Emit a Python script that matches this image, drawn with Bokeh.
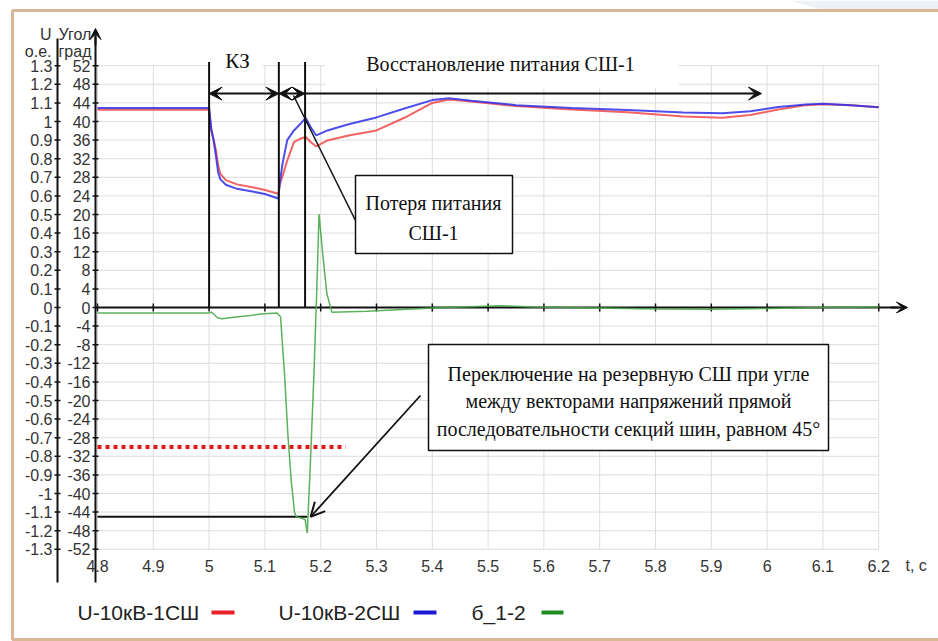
from bokeh.plotting import figure
from bokeh.models import Range1d, Arrow, VeeHead, OpenHead
from bokeh.core.properties import value
from bokeh.embed import file_html
from bokeh.resources import INLINE

# ---------------- data ----------------
t_ticks = [4.8, 4.9, 5.0, 5.1, 5.2, 5.3, 5.4, 5.5, 5.6, 5.7, 5.8, 5.9, 6.0, 6.1, 6.2]
t_labels = ["4.8", "4.9", "5", "5.1", "5.2", "5.3", "5.4", "5.5", "5.6", "5.7",
            "5.8", "5.9", "6", "6.1", "6.2"]

u_ticks = [1.3, 1.2, 1.1, 1.0, 0.9, 0.8, 0.7, 0.6, 0.5, 0.4, 0.3, 0.2, 0.1, 0.0,
           -0.1, -0.2, -0.3, -0.4, -0.5, -0.6, -0.7, -0.8, -0.9, -1.0, -1.1, -1.2, -1.3]
u_labels = ["1.3", "1.2", "1.1", "1", "0.9", "0.8", "0.7", "0.6", "0.5", "0.4", "0.3",
            "0.2", "0.1", "0", "-0.1", "-0.2", "-0.3", "-0.4", "-0.5", "-0.6", "-0.7",
            "-0.8", "-0.9", "-1", "-1.1", "-1.2", "-1.3"]
deg_ticks = [52, 48, 44, 40, 36, 32, 28, 24, 20, 16, 12, 8, 4, 0,
             -4, -8, -12, -16, -20, -24, -28, -32, -36, -40, -44, -48, -52]
deg_labels = [str(d) for d in deg_ticks]

# bus-section voltages, p.u.
t_u = [4.80, 5.000, 5.004, 5.008, 5.012, 5.016, 5.020, 5.030, 5.050, 5.080, 5.100,
       5.124, 5.127, 5.132, 5.140, 5.152, 5.163, 5.173, 5.182, 5.192, 5.212, 5.250,
       5.300, 5.350, 5.400, 5.430, 5.470, 5.550, 5.650, 5.750, 5.850, 5.920, 5.970,
       6.020, 6.070, 6.100, 6.150, 6.200]
u_1sh = [1.063, 1.063, 0.950, 0.905, 0.850, 0.770, 0.720, 0.685, 0.662, 0.645, 0.632,
         0.612, 0.665, 0.710, 0.790, 0.889, 0.907, 0.917, 0.890, 0.866, 0.898, 0.925,
         0.952, 1.020, 1.100, 1.118, 1.108, 1.083, 1.065, 1.050, 1.027, 1.020, 1.035,
         1.065, 1.088, 1.093, 1.087, 1.077]
u_2sh = [1.072, 1.072, 0.960, 0.900, 0.820, 0.730, 0.690, 0.660, 0.638, 0.622, 0.610,
         0.586, 0.680, 0.780, 0.900, 0.952, 0.985, 1.020, 0.970, 0.925, 0.952, 0.985,
         1.022, 1.070, 1.115, 1.125, 1.112, 1.088, 1.072, 1.062, 1.048, 1.045, 1.055,
         1.078, 1.092, 1.095, 1.088, 1.077]

# angle between positive-sequence voltage vectors, degrees
t_ang = [4.80, 5.000, 5.004, 5.008, 5.015, 5.023, 5.044, 5.070, 5.092, 5.122, 5.128,
         5.135, 5.141, 5.147, 5.153, 5.156, 5.165, 5.172, 5.176, 5.182, 5.188, 5.193,
         5.197, 5.204, 5.211, 5.220, 5.283, 5.400, 5.520, 5.580, 5.700, 5.800, 5.900,
         6.000, 6.100, 6.200]
ang_12 = [-1.2, -1.2, -1.0, -1.4, -2.2, -2.4, -2.1, -1.8, -1.4, -1.2, -2.0,
          -14.0, -27.0, -37.0, -44.0, -45.0, -45.3, -45.6, -48.5, -32.0, -14.0, 4.0,
          20.1, 11.0, 3.0, -1.0, -0.8, -0.1, 0.4, 0.1, -0.1, -0.3, -0.4,
          -0.2, 0.0, 0.1]

events = [5.0, 5.125, 5.172]      # fault, loss of supply, switch-over
restore_end = 5.99
switch_angle = -45
dotted_angle = -30
dotted_end = 5.245
switch_time = 5.176
DEG_PER_PU = 40

# ---------------- canvas geometry ----------------
W, H = 938, 641
X0_PX, Y0_PX = 97, 307        # screen point of t=4.8, U=0
PX_PER_S, PX_PER_PU = 558, 186


def dx(px):
    return 4.8 + (px - X0_PX) / PX_PER_S


def dy(py):
    return (Y0_PX - py) / PX_PER_PU


p = figure(width=W, height=H, output_backend="svg", toolbar_location=None,
           x_range=Range1d(dx(0), dx(W)), y_range=Range1d(dy(H), dy(0)),
           x_axis_type=None, y_axis_type=None, min_border=0)
p.outline_line_color = None
p.background_fill_color = "white"
p.border_fill_color = "white"
p.extra_y_ranges = {"deg": Range1d(dy(H) * DEG_PER_PU, dy(0) * DEG_PER_PU)}

SANS = value("Liberation Sans")
SERIF = value("Liberation Serif")

# page frame
p.patch(x=[dx(790), dx(W), dx(W), dx(820)], y=[dy(0), dy(0), dy(9), dy(9)],
        fill_color="#edf2f7", line_color=None)
p.multi_line(xs=[[dx(W), dx(12), dx(12), dx(W)]],
             ys=[[dy(10), dy(10), dy(639), dy(639)]],
             line_color="#d8b796", line_width=3)

# grid
u_min, u_max = min(u_ticks), max(u_ticks)
t_min, t_max = min(t_ticks), max(t_ticks)
p.segment(x0=t_ticks, y0=u_min, x1=t_ticks, y1=u_max, line_color="#dddddd", line_width=1)
p.segment(x0=t_min, y0=u_ticks, x1=t_max, y1=u_ticks, line_color="#dddddd", line_width=1)

# white backing under the top captions
p.quad(left=[events[0] + 0.003, dx(325)], right=[5.096, dx(678)],
       top=[dy(38), dy(38)], bottom=[dy(80), dy(87)],
       fill_color="white", line_color=None)

# axes
p.segment(x0=[dx(57), dx(95)], y0=[dy(38), dy(36)], x1=[dx(57), dx(95)], y1=[dy(582), dy(582)],
          line_color="#111111", line_width=2)
p.add_layout(Arrow(end=VeeHead(size=11, fill_color="#111111", line_color="#111111"),
                   x_start=dx(95), y_start=dy(45), x_end=dx(95), y_end=dy(28),
                   line_color="#111111", line_width=2))
p.segment(x0=dx(54), y0=u_ticks, x1=dx(60), y1=u_ticks, line_color="#111111", line_width=1.5)
p.segment(x0=dx(92), y0=u_ticks, x1=dx(98), y1=u_ticks, line_color="#111111", line_width=1.5)
p.segment(x0=[dx(95)], y0=[0], x1=[dx(898)], y1=[0], line_color="#111111", line_width=2)
p.add_layout(Arrow(end=VeeHead(size=11, fill_color="#111111", line_color="#111111"),
                   x_start=dx(890), y_start=0, x_end=dx(907), y_end=0,
                   line_color="#111111", line_width=2))
p.segment(x0=t_ticks, y0=dy(311), x1=t_ticks, y1=dy(303), line_color="#111111", line_width=1.5)

TICK_FONT = "16px"
p.text(x=dx(52), y=u_ticks, text=u_labels, text_font=SANS, text_font_size=TICK_FONT,
       text_align="right", text_baseline="middle", text_color="#333333")
p.text(x=dx(90), y=deg_ticks, text=deg_labels, y_range_name="deg", text_font=SANS,
       text_font_size=TICK_FONT, text_align="right", text_baseline="middle", text_color="#333333")
p.text(x=t_ticks, y=dy(565), text=t_labels, text_font=SANS, text_font_size=TICK_FONT,
       text_align="center", text_baseline="middle", text_color="#333333")
p.text(x=[dx(905)], y=[dy(565)], text=["t, c"], text_font=SANS, text_font_size=TICK_FONT,
       text_align="left", text_baseline="middle", text_color="#333333")
p.text(x=[dx(51), dx(51)], y=[dy(34), dy(51)], text=["U", "о.е."], text_font=SANS,
       text_font_size=TICK_FONT, text_align="right", text_baseline="middle", text_color="#333333")
p.text(x=[dx(58), dx(58)], y=[dy(34), dy(51)], text=["Угол", "град"], text_font=SANS,
       text_font_size=TICK_FONT, text_align="left", text_baseline="middle", text_color="#333333")

# switch-over thresholds
p.segment(x0=[t_min], y0=[dotted_angle], x1=[dotted_end], y1=[dotted_angle], y_range_name="deg",
          line_color="#e01818", line_width=4, line_dash="4 4")
p.segment(x0=[t_min], y0=[switch_angle], x1=[switch_time], y1=[switch_angle], y_range_name="deg",
          line_color="#111111", line_width=2)

# series
p.line(t_u, u_1sh, line_color="#f04848", line_width=2, line_alpha=0.85)
p.line(t_u, u_2sh, line_color="#2f2fe8", line_width=2, line_alpha=0.85)
p.line(t_ang, ang_12, y_range_name="deg", line_color="#4aa84a", line_width=1.5, line_alpha=0.9)

# event markers
ev_top = 1.32
arrow_level = 1.15
p.segment(x0=events, y0=0, x1=events, y1=ev_top, line_color="#111111", line_width=2)


def head():
    return VeeHead(size=13, fill_color="#111111", line_color="#111111")


for a, b in [(events[0], events[1]), (events[1], events[2])]:
    p.add_layout(Arrow(start=head(), end=head(), x_start=a, y_start=arrow_level,
                       x_end=b, y_end=arrow_level, line_color="#111111", line_width=2))
p.add_layout(Arrow(end=head(), x_start=events[2], y_start=arrow_level,
                   x_end=restore_end, y_end=arrow_level, line_color="#111111", line_width=2))

p.text(x=[dx(237)], y=[dy(60)], text=["КЗ"], text_font=SERIF, text_font_size="21px",
       text_align="center", text_baseline="middle", text_color="#111111")
p.text(x=[dx(500)], y=[dy(63)], text=["Восстановление питания СШ-1"], text_font=SERIF,
       text_font_size="20px", text_align="center", text_baseline="middle", text_color="#111111")

# callout: loss of supply
p.segment(x0=[dx(293)], y0=[arrow_level - 0.01], x1=[dx(355)], y1=[dy(220)],
          line_color="#111111", line_width=1.5)
p.quad(left=[dx(355)], right=[dx(512)], top=[dy(175)], bottom=[dy(253)],
       fill_color="white", line_color="#111111", line_width=1.5)
p.text(x=[dx(433), dx(433)], y=[dy(202), dy(232)], text=["Потеря питания", "СШ-1"],
       text_font=SERIF, text_font_size="20px", text_align="center", text_baseline="middle",
       text_color="#111111")

# callout: switch-over
p.add_layout(Arrow(end=OpenHead(size=14, line_color="#111111", line_width=2),
                   x_start=dx(420), y_start=dy(395) * DEG_PER_PU, x_end=5.182, y_end=switch_angle,
                   y_range_name="deg", line_color="#111111", line_width=1.8))
p.quad(left=[dx(428)], right=[dx(828)], top=[dy(344)], bottom=[dy(450)],
       fill_color="white", line_color="#111111", line_width=1.5)
p.text(x=[dx(628)] * 3, y=[dy(373), dy(400), dy(428)],
       text=["Переключение на резервную СШ при угле",
             "между векторами напряжений прямой",
             "последовательности секций шин, равном 45°"],
       text_font=SERIF, text_font_size="20px", text_align="center", text_baseline="middle",
       text_color="#111111")

# legend row
leg_names = ["U-10кВ-1СШ", "U-10кВ-2СШ", "б_1-2"]
leg_colors = ["#e8202a", "#1a1ad6", "#1f8a1f"]
leg_text_x = [dx(77), dx(278), dx(471)]
leg_dash_x0 = [dx(211), dx(413), dx(541)]
leg_dash_x1 = [dx(234), dx(436), dx(563)]
p.text(x=leg_text_x, y=dy(612), text=leg_names, text_font=SANS, text_font_size="21px",
       text_align="left", text_baseline="middle", text_color="#222222")
p.segment(x0=leg_dash_x0, y0=dy(612), x1=leg_dash_x1, y1=dy(612), line_color=leg_colors,
          line_width=4)

open("out.html", "w").write(file_html(p, INLINE))
